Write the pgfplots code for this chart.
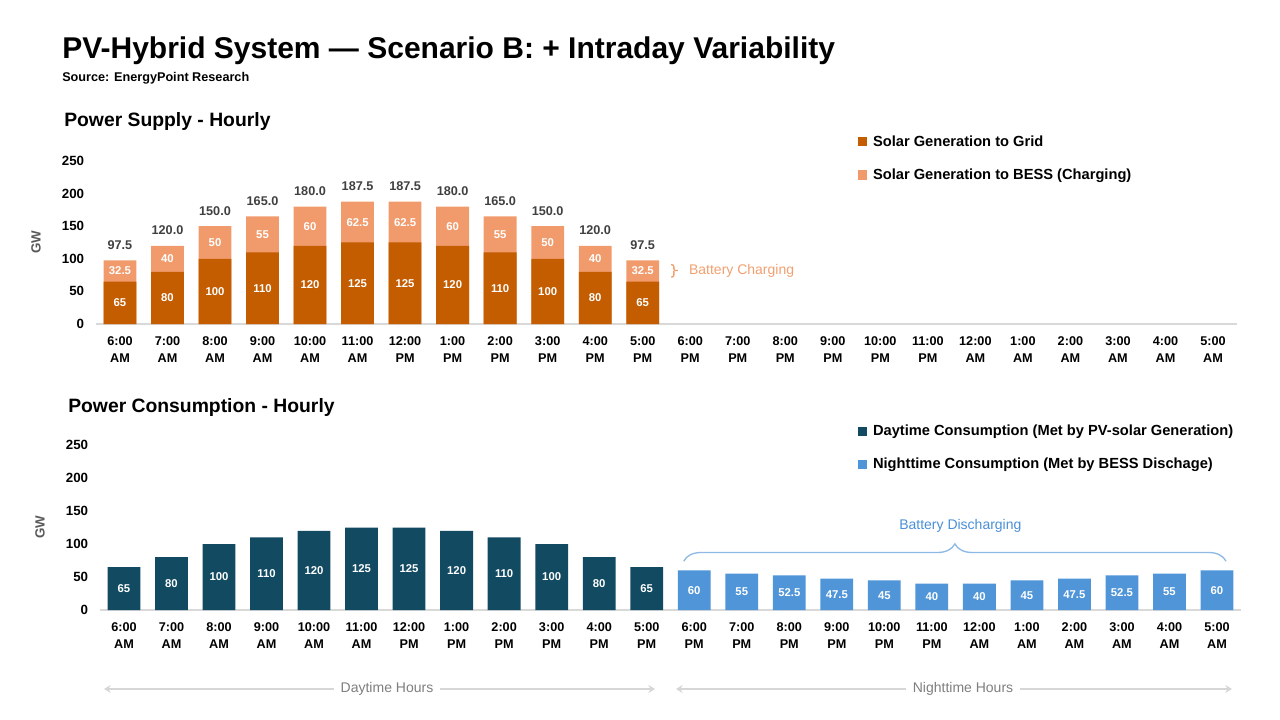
\documentclass[border=0pt]{standalone}
\usepackage{pgfplots}
\pgfplotsset{compat=1.18}
\usepackage{pgfplotstable}
\usepackage{fontspec}
\setmainfont{Liberation Sans}
\usetikzlibrary{decorations.pathreplacing,arrows.meta}

\definecolor{gridor}{HTML}{C45C00}
\definecolor{bessor}{HTML}{F19B6C}
\definecolor{teal}{HTML}{124A62}
\definecolor{nblue}{HTML}{4F95D8}
\definecolor{lblgray}{HTML}{404040}
\definecolor{axgray}{HTML}{D9D9D9}
\definecolor{gwgray}{HTML}{595959}
\definecolor{chgor}{HTML}{F0A070}
\definecolor{dchblue}{HTML}{4A8FD6}
\definecolor{dchline}{HTML}{8DB9E4}
\definecolor{arrgray}{HTML}{D6D6D6}
\definecolor{txtgray}{HTML}{7F7F7F}

\pgfplotstableread{
x grid bess total
0 65 32.5 97.5
1 80 40 120.0
2 100 50 150.0
3 110 55 165.0
4 120 60 180.0
5 125 62.5 187.5
6 125 62.5 187.5
7 120 60 180.0
8 110 55 165.0
9 100 50 150.0
10 80 40 120.0
11 65 32.5 97.5
}\supply

\pgfplotstableread{
x cons
0 65
1 80
2 100
3 110
4 120
5 125
6 125
7 120
8 110
9 100
10 80
11 65
}\dayc

\pgfplotstableread{
x cons
12 60
13 55
14 52.5
15 47.5
16 45
17 40
18 40
19 45
20 47.5
21 52.5
22 55
23 60
}\nightc

\pgfplotsset{
  hourly/.style={
    scale only axis,
    width=855.4pt,
    xmin=-0.5, xmax=23.5,
    ymin=0, ymax=250,
    axis x line*=bottom,
    axis y line*=left,
    x axis line style={-, draw=axgray, line width=0.9pt},
    y axis line style={draw=none},
    major tick length=0pt,
    xtick={0,...,23},
    xticklabels={6:00\\AM,7:00\\AM,8:00\\AM,9:00\\AM,10:00\\AM,11:00\\AM,12:00\\PM,1:00\\PM,2:00\\PM,3:00\\PM,4:00\\PM,5:00\\PM,6:00\\PM,7:00\\PM,8:00\\PM,9:00\\PM,10:00\\PM,11:00\\PM,12:00\\AM,1:00\\AM,2:00\\AM,3:00\\AM,4:00\\AM,5:00\\AM},
    xticklabel style={align=center, font=\bfseries\fontsize{9.5}{12.5}\selectfont, yshift=-6.3pt},
    ytick={0,50,...,250},
    yticklabel style={font=\bfseries\fontsize{10}{12}\selectfont, xshift=-5.5pt},
    /pgf/number format/assume math mode=true,
    ylabel={GW},
    ylabel style={font=\bfseries\fontsize{10}{12}\selectfont, color=gwgray, yshift=9pt},
    clip=false,
    legend cell align=left,
    legend image code/.code={\fill[##1] (0pt,-3.4pt) rectangle (6.8pt,3.4pt); \path (9pt,0pt);},
  },
  barstyle/.style={ybar, bar width=0.69, bar shift=0pt, draw=none},
  inlab/.style={draw=none, mark=none, nodes near coords, point meta=explicit symbolic,
     every node near coord/.style={anchor=center, text=white, font=\bfseries\fontsize{8.5}{10}\selectfont}},
}

\begin{document}
\begin{tikzpicture}
\path[use as bounding box] (0,0) rectangle (960pt,-540pt);

% ---------- top: supply ----------
\begin{axis}[hourly, height=122.25pt, at={(72.15pt,-243pt)}, anchor=south west,
  legend style={draw=none, fill=none, at={(0.6645,1.19)}, anchor=north west,
     font=\bfseries\fontsize{11}{13}\selectfont, row sep=11.3pt},
]
\addplot[barstyle, fill=bessor, forget plot,
  nodes near coords, point meta=explicit symbolic,
  every node near coord/.style={anchor=south, yshift=4.5pt, text=lblgray, font=\bfseries\fontsize{9.5}{11}\selectfont}]
  table[x=x, y=total, meta=total] {\supply};
\addplot[barstyle, fill=gridor, forget plot] table[x=x, y=grid] {\supply};
\addplot[inlab, forget plot] table[x=x, y expr=\thisrow{grid}/2, meta=grid] {\supply};
\addplot[inlab, forget plot] table[x=x, y expr=\thisrow{grid}+\thisrow{bess}/2, meta=bess] {\supply};
\addlegendimage{fill=gridor, draw=none}
\addlegendentry{Solar Generation to Grid}
\addlegendimage{fill=bessor, draw=none}
\addlegendentry{Solar Generation to BESS (Charging)}
\draw[chgor, line width=1pt, rounded corners=1.5pt]
  (axis cs:11.60,91) -| (axis cs:11.655,82) -- (axis cs:11.74,82);
\draw[chgor, line width=1pt, rounded corners=1.5pt]
  (axis cs:11.60,72) -| (axis cs:11.655,82);
\node[anchor=west, text=chgor, font=\fontsize{10.5}{12}\selectfont, inner sep=0pt]
  at (axis cs:11.97,82) {Battery Charging};
\end{axis}

% ---------- bottom: consumption ----------
\begin{axis}[hourly, height=123.75pt, at={(75.15pt,-457.5pt)}, anchor=south west,
  legend style={draw=none, fill=none, at={(0.661,1.155)}, anchor=north west,
     font=\bfseries\fontsize{11}{13}\selectfont, row sep=11.3pt},
]
\addplot[barstyle, fill=teal] table[x=x, y=cons] {\dayc};
\addlegendentry{Daytime Consumption (Met by PV-solar Generation)}
\addplot[barstyle, fill=nblue] table[x=x, y=cons] {\nightc};
\addlegendentry{Nighttime Consumption (Met by BESS Dischage)}
\addplot[inlab, forget plot] table[x=x, y expr=\thisrow{cons}/2, meta=cons] {\dayc};
\addplot[inlab, forget plot] table[x=x, y expr=\thisrow{cons}/2, meta=cons] {\nightc};
\draw[dchline, line width=1pt, decorate, decoration={brace, amplitude=13pt}]
  (axis cs:11.78,74) -- (axis cs:23.19,74);
\node[text=dchblue, font=\fontsize{10.5}{12}\selectfont, inner sep=0pt]
  at (axis cs:17.6,127) {Battery Discharging};
\end{axis}

% ---------- titles and annotations ----------
\begin{scope}[x=0.75pt, y=-0.75pt]
\node[anchor=base west, inner sep=0pt, font=\bfseries\fontsize{22.5}{26}\selectfont] at (62,59) {PV-Hybrid System --- Scenario B: + Intraday Variability};
\node[anchor=base west, inner sep=0pt, font=\bfseries\fontsize{9.5}{11}\selectfont] at (62,82) {Source: EnergyPoint Research};
\node[anchor=base west, inner sep=0pt, font=\bfseries\fontsize{14.5}{17}\selectfont] at (64,127) {Power Supply - Hourly};
\node[anchor=base west, inner sep=0pt, font=\bfseries\fontsize{14.5}{17}\selectfont] at (68,412) {Power Consumption - Hourly};

\draw[arrgray, line width=1.5pt, {Stealth[length=5pt,width=6pt]}-{Stealth[length=5pt,width=6pt]}] (104,689) -- (655,689);
\draw[arrgray, line width=1.5pt, {Stealth[length=5pt,width=6pt]}-{Stealth[length=5pt,width=6pt]}] (676,689) -- (1232,689);
\node[fill=white, text=txtgray, font=\fontsize{10.5}{12}\selectfont, inner xsep=5pt] at (387,689) {Daytime Hours};
\node[fill=white, text=txtgray, font=\fontsize{10.5}{12}\selectfont, inner xsep=5pt] at (963,689) {Nighttime Hours};
\end{scope}
\end{tikzpicture}
\end{document}
